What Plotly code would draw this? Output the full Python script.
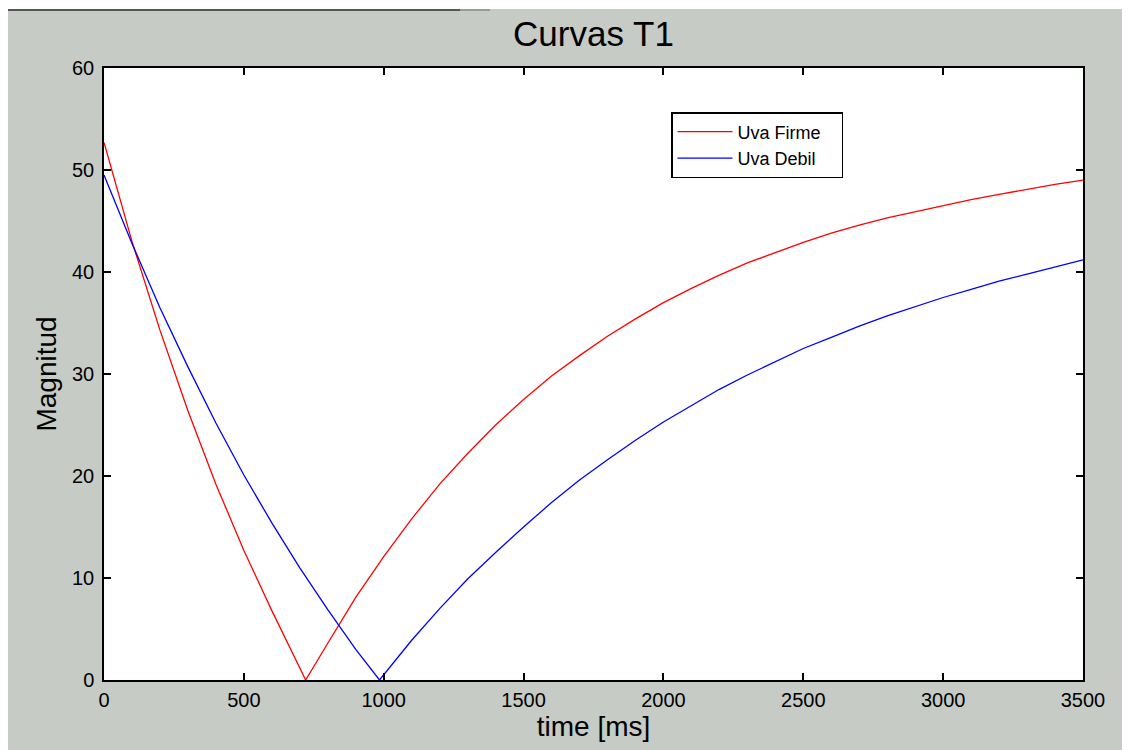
import plotly.graph_objects as go

# time axis in ms
t_ms = [0, 100, 200, 300, 400, 500, 600, 700, 721, 800, 900, 1000, 1100, 1200,
        1300, 1400, 1500, 1600, 1700, 1800, 1900, 2000, 2100, 2200, 2300, 2400,
        2500, 2600, 2700, 2800, 2900, 3000, 3100, 3200, 3300, 3400, 3500]
uva_firme = [52.7, 43.0, 34.3, 26.4, 19.2, 12.7, 6.8, 1.1, 0.0, 3.6, 8.1, 12.1, 15.8, 19.2,
             22.2, 25.0, 27.5, 29.8, 31.8, 33.7, 35.4, 37.0, 38.4, 39.7, 40.9, 41.9,
             42.9, 43.8, 44.6, 45.3, 45.9, 46.5, 47.1, 47.6, 48.1, 48.6, 49.0]

t_ms_b = [0, 100, 200, 300, 400, 500, 600, 700, 800, 900, 985, 1000, 1100, 1200,
          1300, 1400, 1500, 1600, 1700, 1800, 1900, 2000, 2100, 2200, 2300, 2400,
          2500, 2600, 2700, 2800, 2900, 3000, 3100, 3200, 3300, 3400, 3500]
uva_debil = [49.5, 42.8, 36.5, 30.7, 25.2, 20.1, 15.4, 11.0, 6.9, 3.0, 0.0, 0.5, 3.9, 7.0,
             9.9, 12.5, 15.0, 17.4, 19.6, 21.6, 23.5, 25.3, 26.9, 28.5, 29.9, 31.2,
             32.5, 33.6, 34.7, 35.7, 36.6, 37.5, 38.3, 39.1, 39.8, 40.5, 41.2]

x_ticks = [0, 500, 1000, 1500, 2000, 2500, 3000, 3500]
y_ticks = [0, 10, 20, 30, 40, 50, 60]

FONT = "Liberation Sans, Arial, sans-serif"
OFF = 8  # page body margin, the figure sits at (8, 8) in the window
W, H = 1130 - OFF, 750 - OFF
# plot area in window pixels: x 104..1083, y 68..680
L, T = 104 - OFF, 68 - OFF
pw, ph = 979, 612
R, B = W - L - pw, H - T - ph
PAD = "\u00a0" * 3  # a bit of room on the right of the legend text


def px_x(p):
    # window pixel -> paper x
    return (p - OFF - L) / pw


def px_y(p):
    # window pixel -> paper y
    return (T + ph - (p - OFF)) / ph


fig = go.Figure()
fig.add_trace(go.Scatter(x=t_ms, y=uva_firme, mode="lines", name="Uva Firme" + PAD,
                         line=dict(color="#ff0000", width=1.3)))
fig.add_trace(go.Scatter(x=t_ms_b, y=uva_debil, mode="lines", name="Uva Debil" + PAD,
                         line=dict(color="#0000ff", width=1.3)))

axis = dict(showgrid=False, zeroline=False, showline=True, linecolor="black",
            linewidth=1.5, mirror="ticks", ticks="inside", ticklen=7,
            tickcolor="black", tickwidth=1.5,
            tickfont=dict(family=FONT, size=20, color="black"))

fig.update_xaxes(range=[0, 3500], tickvals=x_ticks, ticklabelstandoff=1,
                 title=dict(text="time [ms]", font=dict(family=FONT, size=28, color="black"),
                            standoff=6), **axis)
fig.update_yaxes(range=[0, 60], tickvals=y_ticks, ticklabelstandoff=4,
                 title=dict(text="Magnitud", font=dict(family=FONT, size=28, color="black"),
                            standoff=7), **axis)

# window frame: dark border line along the top
shapes = [
    dict(type="rect", xref="paper", yref="paper", x0=px_x(0), x1=px_x(1130),
         y0=px_y(9), y1=px_y(0), fillcolor="white", line_width=0, layer="below"),
    dict(type="rect", xref="paper", yref="paper", x0=px_x(0), x1=px_x(460),
         y0=px_y(11), y1=px_y(9), fillcolor="#555555", line_width=0, layer="below"),
    dict(type="rect", xref="paper", yref="paper", x0=px_x(460), x1=px_x(490),
         y0=px_y(11), y1=px_y(9), fillcolor="#9a9a9a", line_width=0, layer="below"),
]

fig.update_layout(
    width=W, height=H,
    margin=dict(l=L, r=R, t=T, b=B),
    paper_bgcolor="#c6cbc5",
    plot_bgcolor="white",
    title=dict(text="Curvas T1", x=0.5, xanchor="center", xref="paper",
               y=1 - (34 - OFF) / H, yanchor="middle",
               font=dict(family=FONT, size=35, color="black")),
    legend=dict(x=px_x(671), y=px_y(112), xanchor="left", yanchor="top",
                bgcolor="white", bordercolor="black", borderwidth=1.5,
                font=dict(family=FONT, size=18, color="black"),
                tracegroupgap=0, itemwidth=55),
    shapes=shapes,
    showlegend=True,
)

fig.write_html("out.html")
